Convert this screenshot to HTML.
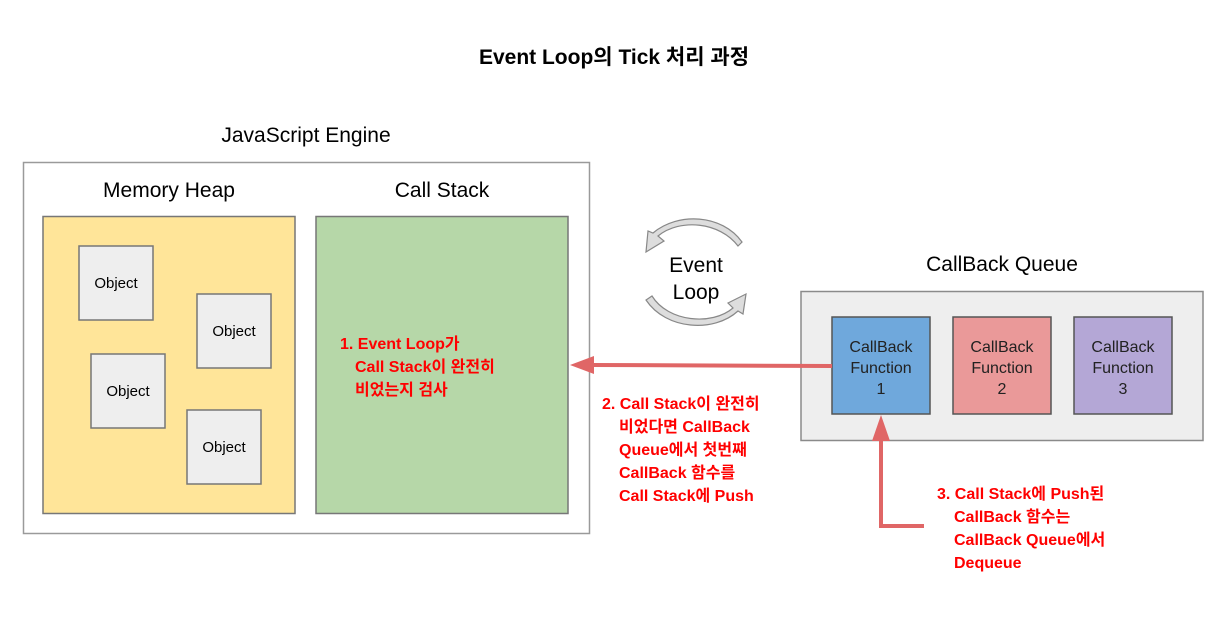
<!DOCTYPE html>
<html><head><meta charset="utf-8"><style>
html,body{margin:0;padding:0;background:#fff;}
svg text{font-family:"Liberation Sans","Noto Sans CJK KR",sans-serif;}
</style></head><body>
<svg width="1230" height="636" viewBox="0 0 1230 636" xmlns="http://www.w3.org/2000/svg">
<rect width="1230" height="636" fill="#fff"/>
<text x="614" y="64" font-size="21" font-weight="bold" text-anchor="middle" fill="#000">Event Loop의 Tick 처리 과정</text>
<text x="306" y="142" font-size="21" text-anchor="middle">JavaScript Engine</text>
<rect x="23.5" y="162.5" width="566" height="371" fill="#fff" stroke="#9a9a9a" stroke-width="1.5"/>
<text x="169" y="197" font-size="21" text-anchor="middle">Memory Heap</text>
<text x="442" y="197" font-size="21" text-anchor="middle">Call Stack</text>
<rect x="43" y="216.5" width="252" height="297" fill="#ffe599" stroke="#777" stroke-width="1.5"/>
<rect x="316" y="216.5" width="252" height="297" fill="#b6d7a8" stroke="#777" stroke-width="1.5"/>
<g fill="#eeeeee" stroke="#777" stroke-width="1.5">
<rect x="79" y="246" width="74" height="74"/>
<rect x="197" y="294" width="74" height="74"/>
<rect x="91" y="354" width="74" height="74"/>
<rect x="187" y="410" width="74" height="74"/>
</g>
<g font-size="15" text-anchor="middle" fill="#000">
<text x="116" y="288">Object</text>
<text x="234" y="336">Object</text>
<text x="128" y="396">Object</text>
<text x="224" y="452">Object</text>
</g>
<g font-size="16" font-weight="bold" fill="#ff0000">
<text x="340" y="349">1. Event Loop가</text>
<text x="355" y="372">Call Stack이 완전히</text>
<text x="355" y="395">비었는지 검사</text>
</g>
<!-- event loop arrows -->
<g fill="#dddddd" stroke="#888" stroke-width="1.2">
<path d="M738,246 C720,222 680,218 658,236 L664,241 L646,252 L648,231 L653,233 C678,212 722,214 742,242 Z"/>
<path d="M652,296 C668,322 712,326 733,308 L728,303 L746,294 L743,314 L738,311 C714,333 666,330 646,300 Z"/>
</g>
<text x="696" y="272" font-size="21" text-anchor="middle">Event</text>
<text x="696" y="299" font-size="21" text-anchor="middle">Loop</text>
<text x="1002" y="271" font-size="21" text-anchor="middle">CallBack Queue</text>
<rect x="801" y="291.5" width="402" height="149" fill="#eeeeee" stroke="#8a8a8a" stroke-width="1.5"/>
<rect x="832" y="317" width="98" height="97" fill="#6fa8dc" stroke="#555" stroke-width="1.5"/>
<rect x="953" y="317" width="98" height="97" fill="#ea9999" stroke="#555" stroke-width="1.5"/>
<rect x="1074" y="317" width="98" height="97" fill="#b4a7d6" stroke="#555" stroke-width="1.5"/>
<g font-size="16" text-anchor="middle" fill="#222">
<text x="881" y="352">CallBack</text><text x="881" y="373">Function</text><text x="881" y="394">1</text>
<text x="1002" y="352">CallBack</text><text x="1002" y="373">Function</text><text x="1002" y="394">2</text>
<text x="1123" y="352">CallBack</text><text x="1123" y="373">Function</text><text x="1123" y="394">3</text>
</g>
<!-- arrow 2 -->
<line x1="832" y1="366" x2="592" y2="365" stroke="#e06666" stroke-width="4"/>
<polygon points="570,365 594,356 594,374" fill="#e06666"/>
<!-- arrow 3 -->
<polyline points="924,526 881,526 881,440" fill="none" stroke="#e06666" stroke-width="4"/>
<polygon points="881,415 872,441 890,441" fill="#e06666"/>
<g font-size="16" font-weight="bold" fill="#ff0000">
<text x="602" y="409">2. Call Stack이 완전히</text>
<text x="619" y="432">비었다면 CallBack</text>
<text x="619" y="455">Queue에서 첫번째</text>
<text x="619" y="478">CallBack 함수를</text>
<text x="619" y="501">Call Stack에 Push</text>
<text x="937" y="499">3. Call Stack에 Push된</text>
<text x="954" y="522">CallBack 함수는</text>
<text x="954" y="545">CallBack Queue에서</text>
<text x="954" y="568">Dequeue</text>
</g>
</svg>
</body></html>
